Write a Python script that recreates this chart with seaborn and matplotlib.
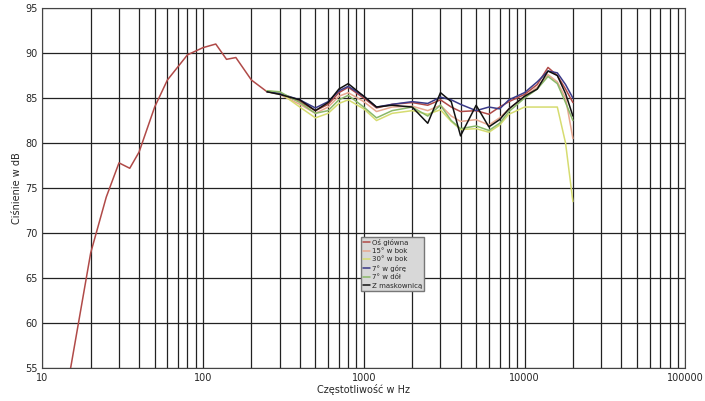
import numpy as np
import matplotlib
matplotlib.use("Agg")
import matplotlib.pyplot as plt
import seaborn as sns
from matplotlib.ticker import NullFormatter, LogLocator

sns.set_theme(style="white")
plt.rcParams['font.family'] = ['DejaVu Sans']

low_f = [15, 20, 25, 30, 35, 40, 50, 60, 80, 100, 120, 140, 160, 200, 250]
low_db = [55, 67.8, 74, 77.8, 77.2, 79, 84, 87, 89.8, 90.6, 91, 89.3, 89.5, 87, 85.7]

f = [250, 300, 400, 500, 600, 700, 800, 1000, 1200, 1500, 2000, 2500, 3000, 3500, 4000, 5000, 6000, 7000, 8000, 10000, 12000, 14000, 16000, 18000, 20000]
os_glowna = [85.7, 85.5, 84.6, 83.6, 84.3, 85.6, 86.2, 85.0, 83.9, 84.3, 84.5, 84.2, 84.8, 84.0, 83.5, 83.6, 83.2, 84.0, 84.6, 85.4, 86.5, 88.4, 87.5, 86.0, 84.5]
bok15 = [85.7, 85.4, 84.3, 83.3, 84.0, 85.2, 85.6, 84.6, 83.5, 84.0, 84.1, 83.6, 84.2, 83.0, 82.4, 82.6, 82.0, 82.8, 83.8, 85.2, 86.2, 87.6, 86.8, 85.0, 80.5]
bok30 = [85.8, 85.6, 84.0, 82.8, 83.3, 84.4, 84.8, 83.8, 82.5, 83.3, 83.6, 83.2, 83.7, 82.4, 81.5, 81.6, 81.2, 82.0, 83.2, 84.0, 84.0, 84.0, 84.0, 80.0, 73.5]
gora7 = [85.7, 85.5, 84.8, 83.9, 84.6, 85.8, 86.3, 85.2, 84.0, 84.3, 84.6, 84.4, 85.1, 84.8, 84.3, 83.6, 84.0, 83.8, 84.8, 85.6, 86.8, 88.0, 87.8, 86.5, 85.0]
dol7 = [85.8, 85.7, 84.5, 83.3, 83.6, 84.8, 85.3, 84.0, 82.8, 83.6, 84.0, 83.0, 84.2, 82.5, 81.6, 81.9, 81.4, 82.2, 83.5, 85.0, 86.0, 87.4, 86.6, 84.5, 82.5]
maskownica = [85.7, 85.4, 84.8, 83.6, 84.5, 86.0, 86.6, 85.2, 84.0, 84.2, 84.0, 82.2, 85.6, 84.6, 80.8, 84.2, 81.8, 82.6, 83.8, 85.2, 86.0, 88.0, 87.5, 85.5, 83.0]

labels = ["Oś główna", "15° w bok", "30° w bok", "7° w górę", "7° w dół", "Z maskownicą"]
colors = ["#b04a48", "#e8a890", "#d6dc70", "#3a3a88", "#8ab868", "#111111"]
series = [os_glowna, bok15, bok30, gora7, dol7, maskownica]

fig = plt.figure(figsize=(7.05, 4.01), dpi=100)
ax = fig.add_axes([0.06, 0.082, 0.912, 0.898])

sns.lineplot(x=low_f, y=low_db, ax=ax, color=colors[0], lw=1.1, legend=False)
for s, lab, c in zip(series, labels, colors):
    sns.lineplot(x=f, y=s, ax=ax, color=c, lw=1.1, label=lab)

ax.set_xscale("log")
ax.set_xlim(10, 100000)
ax.set_ylim(55, 95)
ax.set_yticks(range(55, 96, 5))
ax.set_xticks([10, 100, 1000, 10000, 100000])
ax.set_xticklabels(["10", "100", "1000", "10000", "100000"])
ax.xaxis.set_minor_locator(LogLocator(base=10, subs=np.arange(2, 10)))
ax.xaxis.set_minor_formatter(NullFormatter())
ax.grid(True, which="both", axis="x", color="#222222", lw=0.9)
ax.grid(True, which="major", axis="y", color="#222222", lw=0.9)
ax.tick_params(labelsize=7, length=0)
ax.set_xlabel("Częstotliwość w Hz", fontsize=7, labelpad=1)
ax.set_ylabel("Ciśnienie w dB", fontsize=7, labelpad=2)
for sp in ax.spines.values():
    sp.set_color("#444444")
    sp.set_linewidth(0.8)

leg = ax.legend(loc="upper left", bbox_to_anchor=(0.49, 0.375), fontsize=5, frameon=True,
                handlelength=1.0, handletextpad=0.3, borderpad=0.3, labelspacing=0.35,
                fancybox=False, edgecolor="#777777", framealpha=1)
leg.get_frame().set_facecolor("#d8d8d8")

fig.savefig("out.png", dpi=100)
